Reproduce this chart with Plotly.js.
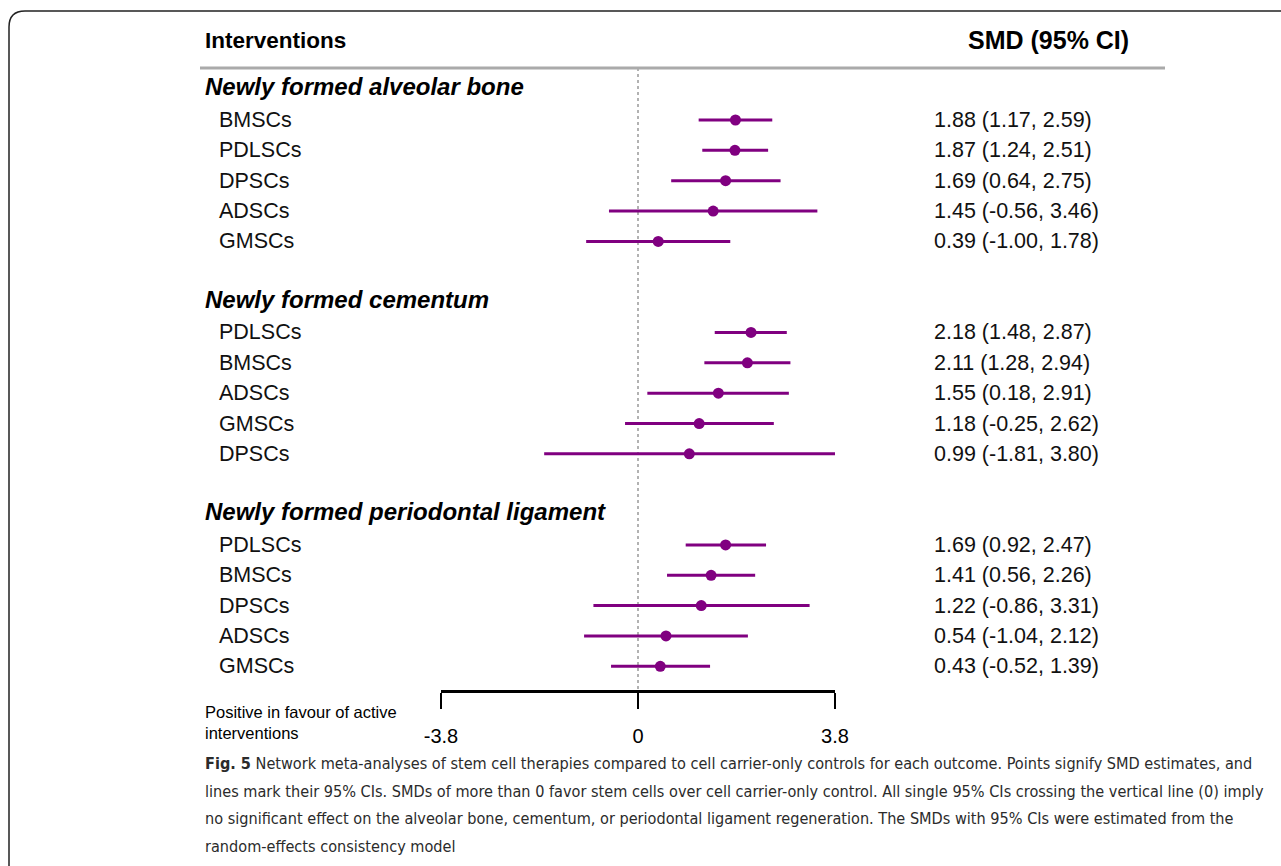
<!DOCTYPE html>
<html>
<head>
<meta charset="utf-8">
<script src="https://cdn.plot.ly/plotly-3.0.1.min.js"></script>
<style>html,body{margin:0;padding:0;background:#fff;}#chart{width:1281px;height:866px;}</style>
</head>
<body>
<div id="chart"></div>
<script>
// ---- data ----
const groupTitles = ["Newly formed alveolar bone", "Newly formed cementum", "Newly formed periodontal ligament"];
const labels1 = ["BMSCs", "PDLSCs", "DPSCs", "ADSCs", "GMSCs"];
const est1 = [1.88, 1.87, 1.69, 1.45, 0.39];
const lo1 = [1.17, 1.24, 0.64, -0.56, -1.00];
const hi1 = [2.59, 2.51, 2.75, 3.46, 1.78];
const labels2 = ["PDLSCs", "BMSCs", "ADSCs", "GMSCs", "DPSCs"];
const est2 = [2.18, 2.11, 1.55, 1.18, 0.99];
const lo2 = [1.48, 1.28, 0.18, -0.25, -1.81];
const hi2 = [2.87, 2.94, 2.91, 2.62, 3.80];
const labels3 = ["PDLSCs", "BMSCs", "DPSCs", "ADSCs", "GMSCs"];
const est3 = [1.69, 1.41, 1.22, 0.54, 0.43];
const lo3 = [0.92, 0.56, -0.86, -1.04, -0.52];
const hi3 = [2.47, 2.26, 3.31, 2.12, 1.39];
const tickVals = [-3.8, 0, 3.8];
const tickText = ["-3.8", "0", "3.8"];
const colHeaders = ["Interventions", "SMD (95% CI)"];
const noteLines = ["Positive in favour of active", "interventions"];
const captionBold = "Fig. 5";
const captionLines = [
  " Network meta-analyses of stem cell therapies compared to cell carrier-only controls for each outcome. Points signify SMD estimates, and",
  "lines mark their 95% CIs. SMDs of more than 0 favor stem cells over cell carrier-only control. All single 95% CIs crossing the vertical line (0) imply",
  "no significant effect on the alveolar bone, cementum, or periodontal ligament regeneration. The SMDs with 95% CIs were estimated from the",
  "random-effects consistency model"
];

const groups = [
  {labels: labels1, est: est1, lo: lo1, hi: hi1},
  {labels: labels2, est: est2, lo: lo2, hi: hi2},
  {labels: labels3, est: est3, lo: lo3, hi: hi3}
];

const W = 1281, H = 866;
const px = v => v / W;
const py = v => 1 - v / H;

const PURPLE = "#800080";
const FONT = "Liberation Sans, Arial, sans-serif";

// choose the narrowest available caption family and fit its size to the reference width
const cv = document.createElement("canvas").getContext("2d");
function hasFont(f) {
  cv.font = `100px monospace`; const a = cv.measureText("abcdefghijklmnopqrstuvwxyz ABC").width;
  cv.font = `100px "${f}", monospace`; const b = cv.measureText("abcdefghijklmnopqrstuvwxyz ABC").width;
  return Math.abs(a - b) > 0.5;
}
const capCandidates = ["Liberation Sans Narrow", "DejaVu Sans Condensed", "Liberation Sans"];
let CAPFAMILY = capCandidates.find(hasFont) || "sans-serif";
cv.font = `100px "${CAPFAMILY}"`;
const w100 = cv.measureText(captionLines[1]).width;
let capSize = 100 * 1059 / w100;
if (!isFinite(capSize) || capSize > 20) capSize = 19;
const CAPFONT = `${CAPFAMILY}, sans-serif`;

const xs = [], ys = [], ep = [], em = [];
const annotations = [];
groups.forEach((g, gi) => {
  const base = gi * 7;
  annotations.push({
    xref: "paper", yref: "y", x: px(203), y: base - 1.1, xanchor: "left", yanchor: "middle",
    text: "<b><i>" + groupTitles[gi] + "</i></b>", showarrow: false,
    font: {family: FONT, size: 24, color: "#000"}
  });
  g.labels.forEach((lab, i) => {
    const slot = base + i;
    xs.push(g.est[i]); ys.push(slot);
    ep.push(g.hi[i] - g.est[i]); em.push(g.est[i] - g.lo[i]);
    annotations.push({
      xref: "paper", yref: "y", x: px(217), y: slot, xanchor: "left", yanchor: "middle",
      text: lab, showarrow: false, font: {family: FONT, size: 21.5, color: "#111"}
    });
    annotations.push({
      xref: "paper", yref: "y", x: px(932), y: slot, xanchor: "left", yanchor: "middle",
      text: g.est[i].toFixed(2) + " (" + g.lo[i].toFixed(2) + ", " + g.hi[i].toFixed(2) + ")",
      showarrow: false, font: {family: FONT, size: 21.5, color: "#111"}
    });
  });
});

annotations.push({xref: "paper", yref: "paper", x: px(203), y: py(40), xanchor: "left", yanchor: "middle",
  text: "<b>" + colHeaders[0] + "</b>", showarrow: false, font: {family: FONT, size: 22.5, color: "#000"}});
annotations.push({xref: "paper", yref: "paper", x: px(1131), y: py(40), xanchor: "right", yanchor: "middle",
  text: "<b>" + colHeaders[1] + "</b>", showarrow: false, font: {family: FONT, size: 25, color: "#000"}});
annotations.push({xref: "paper", yref: "paper", x: px(203), y: py(712), xanchor: "left", yanchor: "middle",
  text: noteLines[0], showarrow: false, font: {family: FONT, size: 16.5, color: "#000"}});
annotations.push({xref: "paper", yref: "paper", x: px(203), y: py(733), xanchor: "left", yanchor: "middle",
  text: noteLines[1], showarrow: false, font: {family: FONT, size: 16.5, color: "#000"}});
const capY = [763, 791, 818, 846];
captionLines.forEach((ln, i) => {
  annotations.push({xref: "paper", yref: "paper", x: px(203), y: py(capY[i]), xanchor: "left", yanchor: "middle",
    text: (i === 0 ? "<b>" + captionBold + "</b>" : "") + ln, showarrow: false,
    font: {family: CAPFONT, size: capSize, color: "#2b2b2b"}});
});

const shapes = [
  {type: "path", xref: "paper", yref: "paper",
   path: `M ${px(1295)},${py(11)} L ${px(25)},${py(11)} Q ${px(9)},${py(11)} ${px(9)},${py(27)} L ${px(9)},${py(880)}`,
   line: {color: "#222", width: 1.5}},
  {type: "line", xref: "paper", yref: "paper", x0: px(200), x1: px(1165), y0: py(68), y1: py(68),
   line: {color: "#aaaaaa", width: 3}},
  {type: "line", xref: "x", yref: "y", x0: 0, x1: 0, y0: -1.71, y1: 18.78, layer: "below",
   line: {color: "#999999", width: 1.5, dash: "dot"}}
];

const trace = {
  type: "scatter", mode: "markers", x: xs, y: ys, cliponaxis: false, hoverinfo: "skip",
  marker: {color: PURPLE, size: 11},
  error_x: {type: "data", symmetric: false, array: ep, arrayminus: em, color: PURPLE, thickness: 3, width: 0}
};

const layout = {
  width: W, height: H, margin: {l: 0, r: 0, t: 0, b: 0},
  paper_bgcolor: "#fff", plot_bgcolor: "rgba(0,0,0,0)", showlegend: false,
  xaxis: {domain: [px(441), px(835)], range: [-3.8, 3.8], showgrid: false, zeroline: false,
    showline: true, linecolor: "#000", linewidth: 2.5, ticks: "outside", ticklen: 16, tickwidth: 2.5, tickcolor: "#000",
    ticklabelstandoff: 10,
    tickvals: tickVals, ticktext: tickText, tickfont: {family: FONT, size: 20, color: "#000"}, fixedrange: true},
  yaxis: {domain: [py(690), 1], range: [18.78, -3.954], visible: false, showgrid: false, zeroline: false, fixedrange: true},
  annotations: annotations, shapes: shapes
};

Plotly.newPlot("chart", [trace], layout, {displayModeBar: false, staticPlot: true});
</script>
</body>
</html>
